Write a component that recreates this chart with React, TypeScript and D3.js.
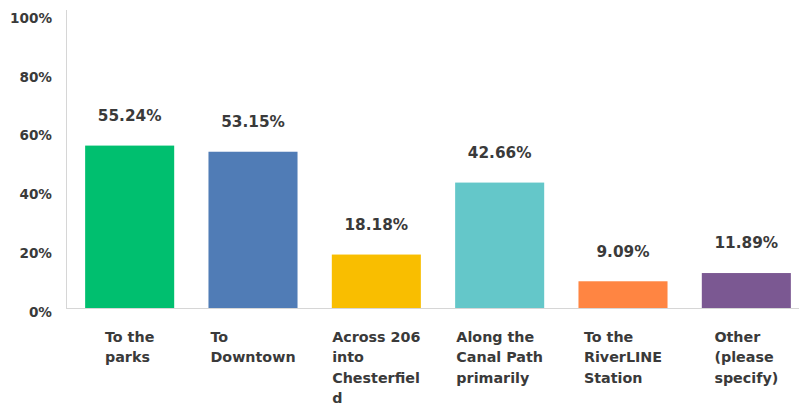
import React, { useEffect, useRef } from 'react';
import * as d3 from 'd3';

const categories = [
  'To the parks',
  'To Downtown',
  'Across 206 into Chesterfield',
  'Along the Canal Path primarily',
  'To the RiverLINE Station',
  'Other (please specify)',
];
const values = [55.24, 53.15, 18.18, 42.66, 9.09, 11.89];
const colors = ['#00bf6f', '#507cb6', '#f9be00', '#64c7c9', '#ff8542', '#7b5892'];
const yTicks = [0, 20, 40, 60, 80, 100];

const W = 799;
const H = 409;
const FONT = '"DejaVu Sans", sans-serif';

export default function App() {
  const svgRef = useRef<SVGSVGElement>(null);

  useEffect(() => {
    if (!svgRef.current) return;
    const svg = d3.select(svgRef.current);
    svg.selectAll('*').remove();

    const x = d3.scaleBand<string>()
      .domain(categories)
      .range([68, 808])
      .paddingInner(0.278)
      .paddingOuter(0.139);

    const y = d3.scaleLinear().domain([0, 100]).range([308, 14]);

    // axis lines
    svg.append('line')
      .attr('x1', 66.5).attr('x2', 66.5)
      .attr('y1', 10).attr('y2', y(0))
      .attr('stroke', '#d6d6d6');
    svg.append('line')
      .attr('x1', 66).attr('x2', W)
      .attr('y1', y(0) + 0.5).attr('y2', y(0) + 0.5)
      .attr('stroke', '#d6d6d6');

    // y tick labels
    svg.append('g')
      .selectAll('text')
      .data(yTicks)
      .join('text')
      .attr('x', 52)
      .attr('y', d => y(d) + 4)
      .attr('dy', '0.35em')
      .attr('text-anchor', 'end')
      .attr('font-family', FONT)
      .attr('font-weight', 'bold')
      .attr('font-size', 13.6)
      .attr('fill', '#3a3a3a')
      .text(d => `${d}%`);

    // bars
    svg.append('g')
      .selectAll('rect')
      .data(values)
      .join('rect')
      .attr('x', (_, i) => x(categories[i])!)
      .attr('y', d => y(d))
      .attr('width', x.bandwidth())
      .attr('height', d => y(0) - y(d))
      .attr('fill', (_, i) => colors[i]);

    // value labels
    svg.append('g')
      .selectAll('text')
      .data(values)
      .join('text')
      .attr('x', (_, i) => x(categories[i])! + x.bandwidth() / 2)
      .attr('y', d => y(d) - 30)
      .attr('dy', '0.35em')
      .attr('text-anchor', 'middle')
      .attr('font-family', FONT)
      .attr('font-weight', 'bold')
      .attr('font-size', 15.3)
      .attr('fill', '#3a3a3a')
      .text(d => `${d.toFixed(2)}%`);

    // category labels, wrapped to the bar width, lines left aligned, block centred
    const maxW = x.bandwidth();
    categories.forEach(cat => {
      const g = svg.append('g');
      const probe = g.append('text')
        .attr('font-family', FONT)
        .attr('font-weight', 'bold')
        .attr('font-size', 14.3);
      const measure = (s: string) => {
        probe.text(s);
        return (probe.node() as SVGTextElement).getComputedTextLength();
      };
      const lines: string[] = [];
      let cur = '';
      cat.split(' ').forEach(word => {
        const tryLine = cur ? cur + ' ' + word : word;
        if (measure(tryLine) <= maxW) {
          cur = tryLine;
          return;
        }
        if (cur) lines.push(cur);
        cur = '';
        let w = word;
        while (measure(w) > maxW) {
          let k = w.length - 1;
          while (k > 1 && measure(w.slice(0, k)) > maxW) k--;
          lines.push(w.slice(0, k));
          w = w.slice(k);
        }
        cur = w;
      });
      if (cur) lines.push(cur);
      const blockW = d3.max(lines, l => measure(l))!;
      probe.remove();
      const left = x(cat)! + maxW / 2 - blockW / 2;
      g.selectAll('text')
        .data(lines)
        .join('text')
        .attr('x', left)
        .attr('y', (_, i) => 336.7 + i * 20.5)
        .attr('dy', '0.35em')
        .attr('font-family', FONT)
        .attr('font-weight', 'bold')
        .attr('font-size', 14.3)
        .attr('fill', '#3a3a3a')
        .text(d => d);
    });
  }, []);

  return (
    <svg
      ref={svgRef}
      width={W}
      height={H}
      style={{ position: 'absolute', left: 0, top: 0, background: '#fff' }}
    />
  );
}
